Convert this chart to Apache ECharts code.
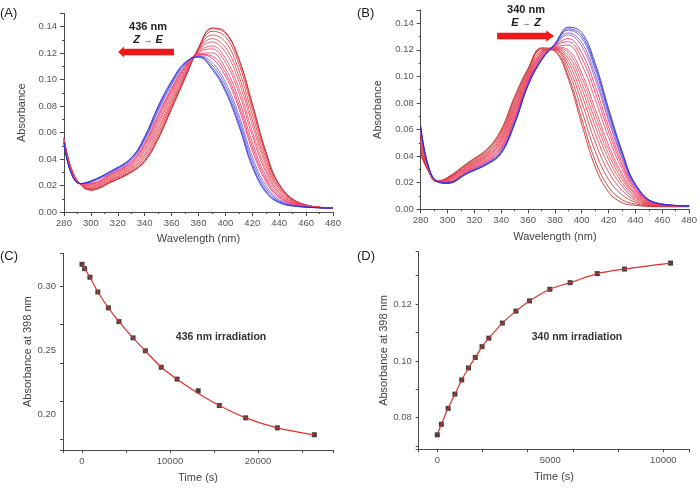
<!DOCTYPE html>
<html><head><meta charset="utf-8">
<script src="https://cdn.jsdelivr.net/npm/echarts@6/dist/echarts.min.js"></script>
<style>html,body{margin:0;padding:0;background:#fff}#c{width:700px;height:489px}</style>
</head><body><div id="c"></div>
<script>
// ---------- data ----------
const wavelengths = [280,285,292,300,315,330,340,350,360,370,380,390,400,410,420,430,440,455,480];

// Panel A: spectra under 436 nm irradiation (first = initial, last = final)
const spectraA = [
 [.056,.034,.021,.0165,.0225,.030,.038,.055,.078,.101,.124,.139,.136,.116,.082,.046,.021,.007,.003],
 [.0559,.0339,.021,.0166,.0227,.0302,.0384,.0555,.0784,.1012,.1239,.1384,.1351,.115,.081,.0454,.0207,.0069,.003],
 [.0557,.0337,.021,.0171,.0232,.0309,.0395,.057,.0797,.102,.1234,.1365,.1324,.1119,.0782,.0435,.0199,.0068,.003],
 [.0553,.0333,.0211,.0177,.024,.0319,.0412,.0593,.0816,.103,.1228,.1337,.1284,.1073,.0738,.0407,.0186,.0065,.003],
 [.055,.033,.0211,.0183,.0247,.0329,.0429,.0615,.0835,.1041,.1222,.1309,.1243,.1027,.0695,.0379,.0174,.0062,.003],
 [.0546,.0326,.0212,.0189,.0254,.0337,.0445,.0635,.0851,.1051,.1216,.1285,.1207,.0987,.0657,.0355,.0162,.006,.003],
 [.0542,.0322,.0212,.0196,.0262,.0348,.0464,.066,.0872,.1063,.1209,.1254,.1162,.0936,.0609,.0324,.0148,.0057,.003],
 [.054,.032,.0213,.0201,.0268,.0356,.0477,.0678,.0887,.1071,.1204,.1232,.1131,.09,.0575,.0302,.0139,.0055,.003],
 [.0536,.0316,.0213,.0208,.0277,.0367,.0496,.0703,.0908,.1083,.1197,.1201,.1086,.0849,.0527,.0271,.0125,.0052,.003],
 [.0533,.0313,.0213,.0213,.0283,.0375,.0509,.072,.0923,.1092,.1192,.1179,.1054,.0813,.0494,.0249,.0115,.005,.003],
 [.053,.031,.0214,.0217,.0288,.0381,.0521,.0735,.0935,.1099,.1188,.1161,.1027,.0783,.0465,.0231,.0106,.0048,.003],
 [.0526,.0306,.0214,.0224,.0296,.0392,.054,.076,.0956,.1111,.1181,.113,.0982,.0732,.0417,.02,.0092,.0045,.003],
 [.0524,.0304,.0215,.0228,.0302,.0399,.0551,.0775,.0969,.1118,.1177,.1111,.0955,.0701,.0388,.0181,.0084,.0043,.003],
 [.0522,.0302,.0215,.0232,.0307,.0406,.0562,.079,.0982,.1125,.1173,.1092,.0928,.067,.0359,.0162,.0076,.0041,.003],
 [.052,.030,.0215,.0235,.031,.041,.057,.080,.099,.113,.117,.108,.091,.065,.034,.015,.007,.004,.003]
];

// Panel B: spectra under 340 nm irradiation (first = initial, last = final)
const spectraB = [
 [.041,.030,.021,.024,.035,.046,.060,.085,.106,.1215,.119,.098,.064,.032,.013,.005,.003,.002,.002],
 [.0423,.0303,.021,.0237,.0345,.0453,.0589,.0837,.1052,.1209,.1193,.1003,.0681,.0367,.0168,.0073,.004,.0022,.002],
 [.0443,.0308,.021,.0233,.0338,.0442,.0573,.0819,.1041,.1201,.1198,.1039,.0744,.0437,.0225,.0109,.0054,.0025,.0021],
 [.0463,.0312,.021,.0229,.0331,.0431,.0557,.080,.1029,.1192,.1203,.1074,.0806,.0507,.0281,.0144,.0068,.0027,.0021],
 [.048,.0316,.021,.0226,.0324,.0422,.0542,.0783,.1018,.1185,.1208,.1105,.0861,.057,.0332,.0175,.0081,.003,.0022],
 [.0496,.032,.021,.0222,.0319,.0413,.053,.0768,.1009,.1178,.1212,.1132,.0909,.0624,.0376,.0202,.0092,.0032,.0022],
 [.0509,.0323,.021,.022,.0314,.0406,.0519,.0756,.1002,.1172,.1215,.1156,.0951,.0671,.0414,.0226,.0102,.0034,.0022],
 [.0522,.0326,.021,.0217,.0309,.0399,.0508,.0743,.0994,.1167,.1218,.1179,.0992,.0718,.0451,.0249,.0112,.0035,.0023],
 [.0533,.0328,.021,.0215,.0305,.0393,.0499,.0732,.0987,.1162,.1221,.1198,.1026,.0757,.0483,.0268,.012,.0037,.0023],
 [.0553,.0333,.021,.0211,.0298,.0382,.0483,.0714,.0976,.1153,.1226,.1234,.1089,.0827,.054,.0304,.0134,.004,.0023],
 [.0568,.0336,.021,.0208,.0292,.0374,.047,.0699,.0966,.1147,.123,.1261,.1137,.0882,.0584,.0331,.0145,.0042,.0024],
 [.0582,.0339,.021,.0205,.0288,.0366,.046,.0686,.0959,.1141,.1233,.1284,.1178,.0928,.0621,.0354,.0155,.0043,.0024],
 [.0597,.0343,.021,.0202,.0282,.0358,.0447,.0672,.095,.1134,.1237,.1312,.1227,.0983,.0666,.0382,.0166,.0046,.0024],
 [.0606,.0345,.021,.020,.0279,.0353,.044,.0663,.0944,.113,.1239,.1327,.1254,.1014,.0691,.0397,.0172,.0047,.0024],
 [.0617,.0347,.021,.0198,.0275,.0347,.0431,.0653,.0938,.1126,.1242,.1347,.1289,.1053,.0722,.0417,.018,.0048,.0025],
 [.0623,.0349,.021,.0196,.0272,.0344,.0425,.0646,.0934,.1123,.1243,.1358,.1309,.1077,.0741,.0428,.0185,.0049,.0025],
 [.063,.035,.021,.0195,.027,.034,.042,.064,.093,.112,.1245,.137,.133,.110,.076,.044,.019,.005,.0025]
];

// Panel C: kinetics, 436 nm irradiation
const timeC = [0,300,900,1800,3000,4200,5800,7200,9000,10800,13200,15600,18600,22200,26400];
const absC  = [0.3169,0.3135,0.3068,0.2953,0.2829,0.2722,0.2595,0.2494,0.2366,0.2273,0.2182,0.2067,0.1971,0.1893,0.1839];
const fitC  = [0.3169,0.3135,0.3068,0.2953,0.2829,0.2722,0.2595,0.2494,0.2366,0.2273,0.2163,0.2067,0.1971,0.1893,0.1839];

// Panel D: kinetics, 340 nm irradiation
const timeD = [0,180,480,780,1080,1380,1680,1980,2280,2880,3480,4080,4980,5880,7080,8280,10320];
const absD  = [0.0740,0.0777,0.0833,0.0883,0.0933,0.0975,0.1012,0.1050,0.1080,0.1133,0.1175,0.1211,0.1252,0.1275,0.1307,0.1323,0.1344];
const fitD  = [0.0740,0.0777,0.0833,0.0883,0.0933,0.0975,0.1012,0.1050,0.1080,0.1133,0.1175,0.1211,0.1252,0.1275,0.1307,0.1323,0.1344];

// tick labels / tick positions
const ticksCx = [0,10000,20000],   minorCx = [5000,15000,25000];
const ticksCy = [0.20,0.25,0.30],  minorCy = [0.175,0.225,0.275,0.325];
const ticksDx = [0,5000,10000],    minorDx = [2500,7500];
const ticksDy = [0.08,0.10,0.12],  minorDy = [0.07,0.09,0.11,0.13];

// ---------- style helpers ----------
const FONT = 'Liberation Sans, Arial, sans-serif';
const AX = '#4a4a4a', LBL = '#555', NAME = '#444';
const stops = [[0,[196,34,34]],[0.4,[236,80,100]],[0.72,[250,40,95]],[0.78,[115,100,230]],[1,[40,40,205]]];
function specColor(k,n){
  const t = k/(n-1);
  for(let i=1;i<stops.length;i++){
    if(t<=stops[i][0]){
      const a=stops[i-1], b=stops[i], u=(t-a[0])/(b[0]-a[0]);
      const c=a[1].map((v,j)=>Math.round(v+(b[1][j]-v)*u));
      return 'rgb('+c.join(',')+')';
    }
  }
  return 'rgb(40,40,205)';
}
function baseAxis(extra){
  return Object.assign({
    type:'value',
    axisLine:{show:true,onZero:false,lineStyle:{color:AX,width:1}},
    axisTick:{show:true,inside:false,length:4,lineStyle:{color:AX,width:1}},
    axisLabel:{color:LBL,fontSize:9.5,fontFamily:FONT},
    splitLine:{show:false},
    nameLocation:'middle',
    nameTextStyle:{color:NAME,fontSize:11,fontFamily:FONT}
  },extra);
}
const isIn = (list,v) => list.some(x => Math.abs(x-v) < 1e-9*Math.max(1,Math.abs(x)) + 1e-9);
const labelOnly = (list,fmt) => (v => isIn(list,v) ? fmt(v) : '');
const intFmt = v => String(Math.round(v));
const fix2 = v => v.toFixed(2);

const series = [];
spectraA.forEach((row,k)=>{
  series.push({type:'line',xAxisIndex:0,yAxisIndex:0,silent:true,showSymbol:false,
    smooth:0.4,animation:false,
    data:wavelengths.map((w,i)=>[w,row[i]]),
    lineStyle:{width:0.85,color:specColor(k,spectraA.length)}});
});
spectraB.forEach((row,k)=>{
  series.push({type:'line',xAxisIndex:1,yAxisIndex:1,silent:true,showSymbol:false,
    smooth:0.4,animation:false,
    data:wavelengths.map((w,i)=>[w,row[i]]),
    lineStyle:{width:0.85,color:specColor(k,spectraB.length)}});
});

const richTxt = {b:{fontWeight:'bold',fontSize:11,color:'#222',fontFamily:FONT,lineHeight:13},
  i:{fontWeight:'bold',fontStyle:'italic',fontSize:11,color:'#222',fontFamily:FONT,lineHeight:13},
  r:{fontSize:9,color:'#444',fontFamily:FONT,lineHeight:13}};

// annotations (arrows + text) in data coordinates
series[0].markPoint = {silent:true,animation:false,data:[
  {coord:[341,0.1208],symbol:'path://M0,5.5L6,0L6,2.2L56,2.2L56,8.8L6,8.8L6,11Z',symbolSize:[56,11],symbolKeepAspect:false,
   itemStyle:{color:'#f01818'},label:{show:false}},
  {coord:[342.5,0.1348],symbol:'rect',symbolSize:1,itemStyle:{color:'rgba(0,0,0,0)'},
   label:{show:true,position:'inside',formatter:'{b|436 nm}\n{i|Z} {r|→} {i|E}',lineHeight:13,rich:richTxt}}
]};
series[spectraA.length].markPoint = {silent:true,animation:false,data:[
  {coord:[358.2,0.1304],symbol:'path://M0,2.2L49,2.2L49,0L57,5.5L49,11L49,8.8L0,8.8Z',symbolSize:[57,11],symbolKeepAspect:false,
   itemStyle:{color:'#f01818'},label:{show:false}},
  {coord:[358.5,0.1449],symbol:'rect',symbolSize:1,itemStyle:{color:'rgba(0,0,0,0)'},
   label:{show:true,position:'inside',formatter:'{b|340 nm}\n{i|E} {r|→} {i|Z}',lineHeight:13,rich:richTxt}}
]};

// kinetics
series.push({type:'scatter',xAxisIndex:2,yAxisIndex:2,silent:true,animation:false,symbol:'rect',symbolSize:5,
  data:timeC.map((t,i)=>[t,absC[i]]),itemStyle:{color:'#111'},z:2});
series.push({type:'line',xAxisIndex:2,yAxisIndex:2,silent:true,animation:false,showSymbol:false,smooth:0.3,
  data:timeC.map((t,i)=>[t,fitC[i]]),lineStyle:{color:'#e0302a',width:1.2},z:3,
  markPoint:{silent:true,animation:false,data:[{coord:[15800,0.2604],symbol:'rect',symbolSize:1,itemStyle:{color:'rgba(0,0,0,0)'},
    label:{show:true,position:'inside',formatter:'436 nm irradiation',fontWeight:'bold',fontSize:10.5,color:'#333',fontFamily:FONT}}]}});
series.push({type:'scatter',xAxisIndex:3,yAxisIndex:3,silent:true,animation:false,symbol:'rect',symbolSize:5,
  data:timeD.map((t,i)=>[t,absD[i]]),itemStyle:{color:'#111'},z:2});
series.push({type:'line',xAxisIndex:3,yAxisIndex:3,silent:true,animation:false,showSymbol:false,smooth:0.3,
  data:timeD.map((t,i)=>[t,fitD[i]]),lineStyle:{color:'#e0302a',width:1.2},z:3,
  markPoint:{silent:true,animation:false,data:[{coord:[6181,0.1085],symbol:'rect',symbolSize:1,itemStyle:{color:'rgba(0,0,0,0)'},
    label:{show:true,position:'inside',formatter:'340 nm irradiation',fontWeight:'bold',fontSize:10.5,color:'#333',fontFamily:FONT}}]}});

const CX = [-2160, 28520], CY = [0.172, 0.3255];
const DX = [-823, 11150],  DY = [0.0689, 0.1384];

const option = {
  animation:false,
  backgroundColor:'#fff',
  textStyle:{fontFamily:FONT},
  grid:[
    {left:64,top:13.4,width:269,height:198.6},
    {left:420.7,top:9.9,width:270,height:199.4},
    {left:63,top:253.3,width:270,height:196.7},
    {left:418.7,top:251.7,width:270.6,height:197.6}
  ],
  xAxis:[
    baseAxis({gridIndex:0,position:'bottom',min:280,max:480,interval:20,name:'Wavelength (nm)',nameGap:21,
      minorTick:{show:true,splitNumber:2,length:2,lineStyle:{color:AX}},
      axisLabel:{color:LBL,fontSize:9.5,fontFamily:FONT,margin:6}}),
    baseAxis({gridIndex:1,position:'bottom',min:280,max:480,interval:20,name:'Wavelength (nm)',nameGap:22,
      minorTick:{show:true,splitNumber:2,length:2,lineStyle:{color:AX}},
      axisLabel:{color:LBL,fontSize:9.5,fontFamily:FONT,margin:6}}),
    baseAxis({gridIndex:2,position:'bottom',min:CX[0],max:CX[1],name:'Time (s)',nameGap:22,
      axisTick:{show:true,length:3,lineStyle:{color:AX}},
      axisLabel:{color:LBL,fontSize:9.5,fontFamily:FONT,margin:6,customValues:ticksCx.concat(minorCx),formatter:labelOnly(ticksCx,intFmt)}}),
    baseAxis({gridIndex:3,position:'bottom',min:DX[0],max:DX[1],name:'Time (s)',nameGap:22,
      axisTick:{show:true,length:3,lineStyle:{color:AX}},
      axisLabel:{color:LBL,fontSize:9.5,fontFamily:FONT,margin:6,customValues:ticksDx.concat(minorDx),formatter:labelOnly(ticksDx,intFmt)}})
  ],
  yAxis:[
    baseAxis({gridIndex:0,position:'left',min:0,max:0.15,interval:0.02,name:'Absorbance',nameGap:37,
      minorTick:{show:true,splitNumber:2,length:2,lineStyle:{color:AX}},
      axisLabel:{color:LBL,fontSize:9.5,fontFamily:FONT,margin:7,showMaxLabel:false,formatter:fix2}}),
    baseAxis({gridIndex:1,position:'left',min:0,max:0.15,interval:0.02,name:'Absorbance',nameGap:37,
      minorTick:{show:true,splitNumber:2,length:2,lineStyle:{color:AX}},
      axisLabel:{color:LBL,fontSize:9.5,fontFamily:FONT,margin:7,showMaxLabel:false,formatter:fix2}}),
    baseAxis({gridIndex:2,position:'left',min:CY[0],max:CY[1],name:'Absorbance at 398 nm',nameGap:28,
      axisTick:{show:true,length:3,lineStyle:{color:AX}},
      axisLabel:{color:LBL,fontSize:9.5,fontFamily:FONT,margin:7,customValues:ticksCy.concat(minorCy),formatter:labelOnly(ticksCy,fix2)}}),
    baseAxis({gridIndex:3,position:'left',min:DY[0],max:DY[1],name:'Absorbance at 398 nm',nameGap:28,
      axisTick:{show:true,length:3,lineStyle:{color:AX}},
      axisLabel:{color:LBL,fontSize:9.5,fontFamily:FONT,margin:7,customValues:ticksDy.concat(minorDy),formatter:labelOnly(ticksDy,fix2)}})
  ],
  graphic:[
    {type:'text',left:0,top:7,style:{text:'(A)',fontSize:13,fill:'#222',fontFamily:FONT}},
    {type:'text',left:357,top:7,style:{text:'(B)',fontSize:13,fill:'#222',fontFamily:FONT}},
    {type:'text',left:0,top:250,style:{text:'(C)',fontSize:13,fill:'#222',fontFamily:FONT}},
    {type:'text',left:357,top:250,style:{text:'(D)',fontSize:13,fill:'#222',fontFamily:FONT}}
  ],
  series:series
};
const chart = echarts.init(document.getElementById('c'),null,{renderer:'canvas'});
chart.setOption(option);
</script></body></html>
